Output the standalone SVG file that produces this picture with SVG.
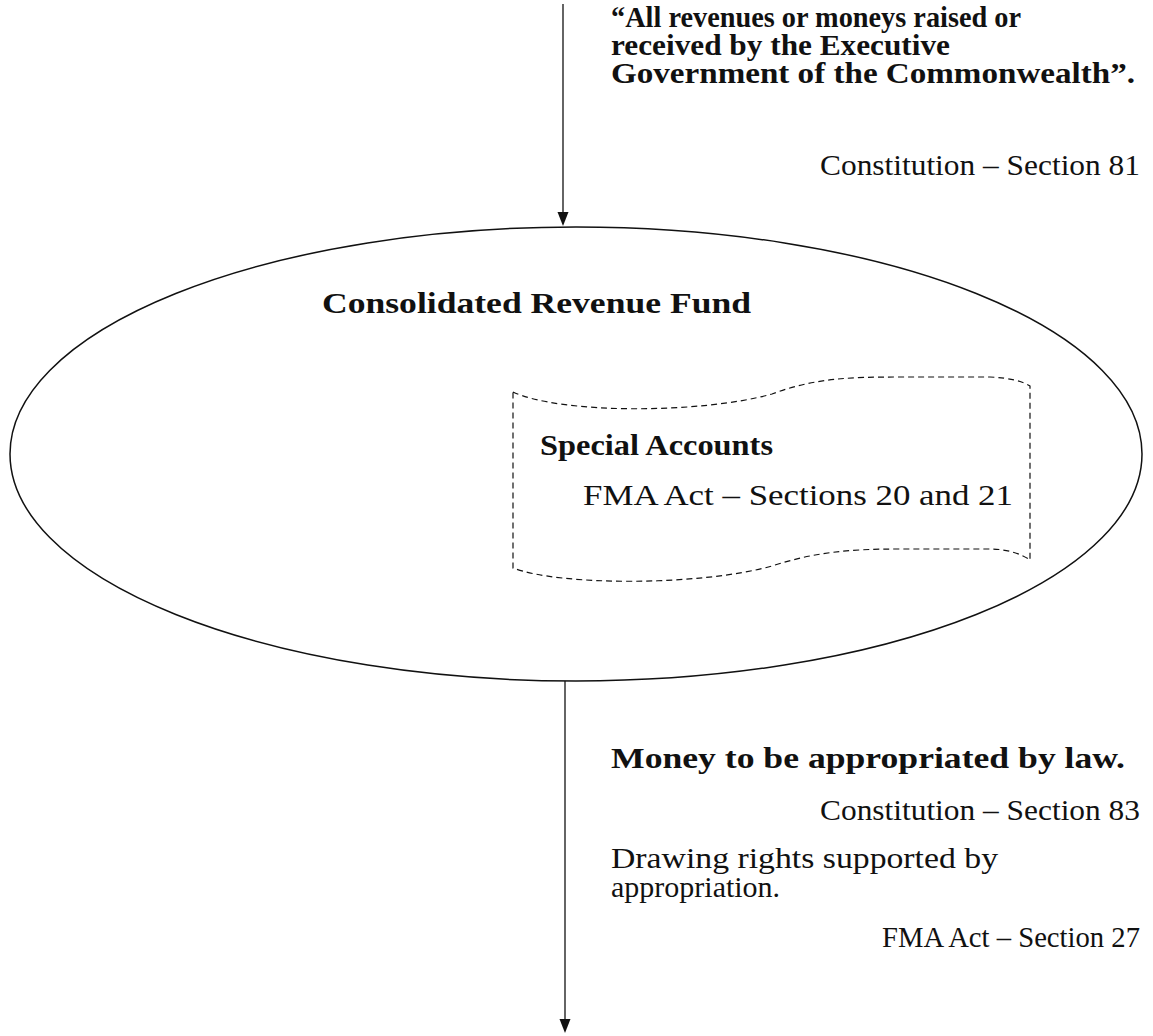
<svg xmlns="http://www.w3.org/2000/svg" width="1153" height="1036" viewBox="0 0 1153 1036">
<style>
.t{font-family:"Liberation Serif","Times New Roman",serif;font-size:30px;fill:#111}
.b{font-weight:bold}
.e{text-anchor:end}
.ln{stroke:#111;stroke-width:1.3;fill:none}
.ah{fill:#111}
</style>
<rect width="1153" height="1036" fill="#fff"/>
<g id="connectors">
<line class="ln" x1="563" y1="4" x2="563" y2="214"/>
<path class="ah" d="M557.5,212 L568.5,212 L563,226 Z"/>
<line class="ln" x1="565" y1="681" x2="565" y2="1021"/>
<path class="ah" d="M559.5,1019 L570.5,1019 L565,1033 Z"/>
</g>
<g id="fund">
<ellipse cx="576" cy="454" rx="566" ry="227" fill="none" stroke="#111" stroke-width="1.5"/>
<text class="t b" x="322" y="313" textLength="429" lengthAdjust="spacingAndGlyphs">Consolidated Revenue Fund</text>
</g>
<g id="special-accounts">
<path d="M513,392 C560,414 700,414 772,394 C815,378 850,377 900,377 L990,377 C1010,378 1022,381 1030,386 L1030,560 C1020,553 1005,549 990,549 L900,549 C850,549 815,552 772,566 C700,586 560,586 513,568 Z" fill="none" stroke="#111" stroke-width="1.2" stroke-dasharray="6,4"/>
<text class="t b" x="540" y="455" textLength="233" lengthAdjust="spacingAndGlyphs">Special Accounts</text>
<text class="t" x="583" y="505" textLength="430" lengthAdjust="spacingAndGlyphs">FMA Act – Sections 20 and 21</text>
</g>
<g id="source-note">
<text class="t b" x="611" y="27" textLength="410" lengthAdjust="spacingAndGlyphs">“All revenues or moneys raised or</text>
<text class="t b" x="611" y="55" textLength="339" lengthAdjust="spacingAndGlyphs">received by the Executive</text>
<text class="t b" x="611" y="83" textLength="524" lengthAdjust="spacingAndGlyphs">Government of the Commonwealth”.</text>
<text class="t e" x="1140" y="175" textLength="320" lengthAdjust="spacingAndGlyphs">Constitution – Section 81</text>
</g>
<g id="appropriation-note">
<text class="t b" x="611" y="768" textLength="514" lengthAdjust="spacingAndGlyphs">Money to be appropriated by law.</text>
<text class="t e" x="1140" y="820" textLength="320" lengthAdjust="spacingAndGlyphs">Constitution – Section 83</text>
<text class="t" x="611" y="868" textLength="387" lengthAdjust="spacingAndGlyphs">Drawing rights supported by</text>
<text class="t" x="611" y="897">appropriation.</text>
<text class="t e" x="1140" y="947" textLength="258" lengthAdjust="spacingAndGlyphs">FMA Act – Section 27</text>
</g>
</svg>
